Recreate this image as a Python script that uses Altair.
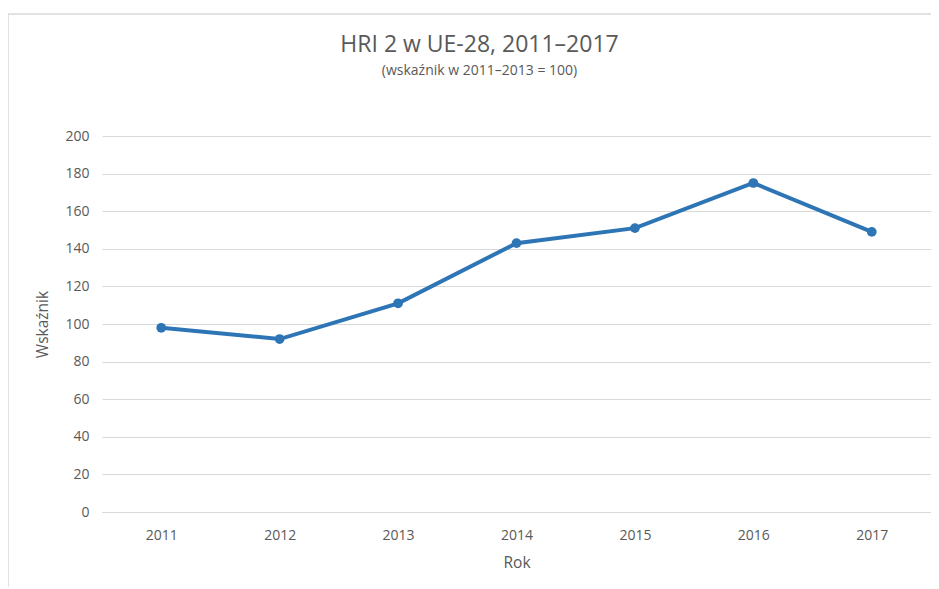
import altair as alt
import pandas as pd

years = ["2011", "2012", "2013", "2014", "2015", "2016", "2017"]
values = [98, 92, 111, 143, 151, 175, 149]

df = pd.DataFrame({"Rok": years, "Wskaźnik": values})

FONT = "Open Sans"
GRAY = "#595959"
BLUE = "#2E75B6"

base = alt.Chart(df).encode(
    x=alt.X("Rok:O", sort=years,
            axis=alt.Axis(labelAngle=0, ticks=False, domain=True, domainColor="#d9d9d9",
                          labelPadding=16, titlePadding=13, labelFontSize=14,
                          titleFontSize=15.5, titleFontWeight="normal", grid=False,
                          labelColor=GRAY, titleColor=GRAY, labelFont=FONT, titleFont=FONT),
            scale=alt.Scale(paddingOuter=0.5)),
    y=alt.Y("Wskaźnik:Q", scale=alt.Scale(domain=[0, 200]),
            axis=alt.Axis(values=list(range(0, 201, 20)), ticks=False, domain=False,
                          gridColor="#d9d9d9", gridWidth=1.2, labelPadding=13,
                          labelFontSize=14, titleFontSize=15.5, titleFontWeight="normal",
                          titlePadding=14, labelColor=GRAY, titleColor=GRAY,
                          labelFont=FONT, titleFont=FONT)),
)

line = base.mark_line(color=BLUE, strokeWidth=4)
pts = base.mark_point(color=BLUE, filled=True, opacity=1, size=95)

border = alt.Chart(alt.Data(values=[{}])).mark_rule(color="#d9d9d9", strokeWidth=1.5).encode(
    x=alt.value(-94), y=alt.value(-122), y2=alt.value(500))
border_top = alt.Chart(alt.Data(values=[{}])).mark_rule(color="#d9d9d9", strokeWidth=1.5).encode(
    x=alt.value(-94), x2=alt.value(850), y=alt.value(-122))

chart = alt.layer(border, border_top, line, pts).properties(
    width=829, height=376,
    autosize=alt.AutoSizeParams(type="none"),
    padding={"left": 94, "top": 128, "right": 0, "bottom": 75},
    title=alt.TitleParams(
        text="HRI 2 w UE-28, 2011–2017",
        subtitle="(wskaźnik w 2011–2013 = 100)",
        anchor="middle", dx=-37, offset=-65, fontSize=23, font=FONT, fontWeight="normal",
        color=GRAY, subtitleColor=GRAY, subtitleFont=FONT, subtitleFontSize=14,
        subtitlePadding=7,
    ),
).configure_view(stroke=None)

chart.save("out.html", embed_options={"renderer": "svg", "actions": False})
